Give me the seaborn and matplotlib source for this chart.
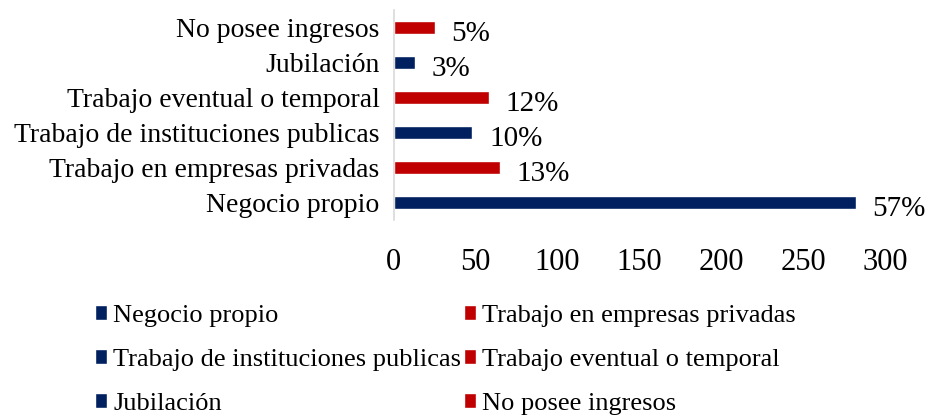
import matplotlib
matplotlib.use("Agg")
import matplotlib.pyplot as plt
import seaborn as sns
from matplotlib.patches import Patch

# Data
categorias = ["No posee ingresos", "Jubilación", "Trabajo eventual o temporal",
              "Trabajo de instituciones publicas", "Trabajo en empresas privadas",
              "Negocio propio"]
valores = [25, 13, 58, 48, 65, 282]
porcentajes = ["5%", "3%", "12%", "10%", "13%", "57%"]
colores = ["#C00000", "#002060", "#C00000", "#002060", "#C00000", "#002060"]
ticks_x = [0, 50, 100, 150, 200, 250, 300]

# Legend order (as in the original, filled column-wise with ncol=2)
orden_leyenda = ["Negocio propio", "Trabajo de instituciones publicas", "Jubilación",
                 "Trabajo en empresas privadas", "Trabajo eventual o temporal",
                 "No posee ingresos"]

sns.set_style("white")
plt.rcParams["font.family"] = ["Liberation Serif", "DejaVu Serif"]
plt.rcParams["text.color"] = "black"
plt.rcParams["xtick.color"] = "black"
plt.rcParams["ytick.color"] = "black"

fig = plt.figure(figsize=(9.35, 4.2), dpi=100)
ax = fig.add_axes([0.421, 0.476, 0.526, 0.5])

sns.barplot(x=valores, y=categorias, hue=categorias, palette=colores,
            orient="h", width=0.35, legend=False, ax=ax, saturation=1)

# percentage labels
for i, (v, p) in enumerate(zip(valores, porcentajes)):
    ax.annotate(p, xy=(v, i), xytext=(12, -4.5), textcoords="offset points",
                ha="left", va="center", fontsize=21, color="black")

ax.set_xlim(0, 300)
ax.set_xticks(ticks_x)
ax.set_xticklabels([str(t) for t in ticks_x], fontsize=22)
ax.tick_params(axis="x", length=0, pad=20)
ax.tick_params(axis="y", length=0, pad=10, labelsize=20)
ax.set_xlabel("")
ax.set_ylabel("")

for s in ["top", "right", "bottom"]:
    ax.spines[s].set_visible(False)
ax.spines["left"].set_color("#d9d9d9")
ax.spines["left"].set_linewidth(1.2)

color_map = dict(zip(categorias, colores))
handles = [Patch(facecolor=color_map[c], label=c) for c in orden_leyenda]
fig.legend(handles=handles, ncol=2, loc="lower left", bbox_to_anchor=(0.076, -0.045),
           frameon=False, fontsize=19, handlelength=0.45, handleheight=0.5,
           handletextpad=0.25, columnspacing=0.1, labelspacing=0.83)

fig.savefig("out.png", dpi=100)
